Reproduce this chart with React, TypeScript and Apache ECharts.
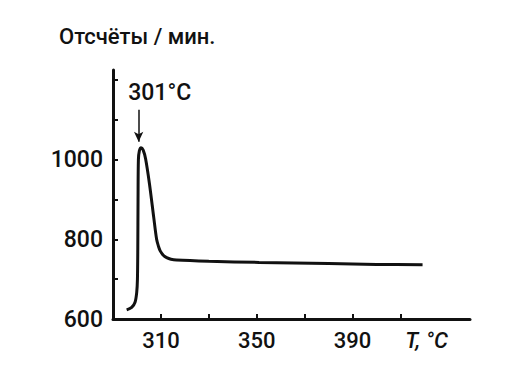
import React, { useEffect, useRef } from "react";
import * as echarts from "echarts";

const temperature = [295.7, 297.8, 299.2, 299.9, 300.2, 300.35, 300.45, 300.6, 301.0, 301.7, 302.6, 303.6, 305.2, 307.0, 308.2, 309.0, 309.7, 311.0, 312.4, 314.2, 316.5, 330, 351, 380, 400, 419.2];
const counts = [623, 629, 642, 667, 700, 780, 900, 1000, 1022, 1030, 1024, 1002, 940, 855, 800, 782, 771, 760, 754, 750, 748, 745, 742, 739, 737, 736];

const xTicks = [310, 330, 350, 370, 390, 410];
const xLabels = [310, 350, 390, 410];
const yTicks = [600, 700, 800, 900, 1000, 1100, 1200];
const yLabels = [600, 800, 1000];

const peakLabel = "301°C";
const peakArrowT = 300.7;
const title = "Отсчёты / мин.";
const xName = "T, °C";

const FONT = "Roboto, 'DejaVu Sans Condensed', sans-serif";

export default function App() {
  const ref = useRef<HTMLDivElement>(null);
  useEffect(() => {
    if (!ref.current) return;
    const chart = echarts.init(ref.current, null, { renderer: "svg" });
    const data = temperature.map((t, i) => [t, counts[i]]);
    chart.setOption({
      animation: false,
      backgroundColor: "#ffffff",
      title: {
        text: title,
        left: 54,
        top: 20,
        textStyle: { fontFamily: FONT, fontSize: 22, fontWeight: 500, color: "#111" },
      },
      grid: { left: 113, right: 55, top: 70, bottom: 69 },
      xAxis: {
        type: "value",
        min: 290,
        max: 439,
        splitLine: { show: false },
        axisLine: { lineStyle: { color: "#111", width: 3 } },
        axisTick: { inside: true, length: 5, customValues: xTicks, lineStyle: { color: "#111", width: 2 } },
        axisLabel: {
          customValues: xLabels,
          margin: 10,
          color: "#111",
          fontFamily: FONT,
          fontWeight: 500,
          fontSize: 22,
          formatter: (v: number) => (v === 410 ? "{n|" + xName + "}" : String(v)),
          rich: {
            n: { fontFamily: FONT, fontSize: 22, fontWeight: 500, fontStyle: "italic", color: "#111", padding: [0, 0, 0, 52] },
          },
        },
      },
      yAxis: {
        type: "value",
        min: 600,
        max: 1225,
        splitLine: { show: false },
        axisLine: { lineStyle: { color: "#111", width: 3 } },
        axisTick: { inside: true, length: 5, customValues: yTicks, lineStyle: { color: "#111", width: 2 } },
        axisLabel: {
          customValues: yLabels,
          margin: 10,
          color: "#111",
          fontFamily: FONT,
          fontWeight: 500,
          fontSize: 23,
          formatter: (v: number) => String(v),
        },
      },
      series: [
        {
          type: "line",
          data,
          smooth: 0.3,
          symbol: "none",
          lineStyle: { color: "#111", width: 3 },
          markLine: {
            silent: true,
            symbol: ["none", "arrow"],
            symbolSize: [7, 10],
            label: { show: false },
            lineStyle: { color: "#111", width: 1.5, type: "solid" },
            data: [[{ coord: [peakArrowT, 1125] }, { coord: [peakArrowT, 1045] }]],
          },
          markPoint: {
            silent: true,
            symbolSize: 0,
            label: {
              show: true,
              position: "inside",
              formatter: peakLabel,
              fontFamily: FONT,
              fontWeight: 500,
              fontSize: 23,
              color: "#111",
            },
            data: [{ coord: [309.5, 1168] }],
          },
        },
      ],
    });
    return () => chart.dispose();
  }, []);
  return (
    <div
      ref={ref}
      style={{ position: "fixed", left: 0, top: 0, width: 525, height: 388, background: "#fff" }}
    />
  );
}
